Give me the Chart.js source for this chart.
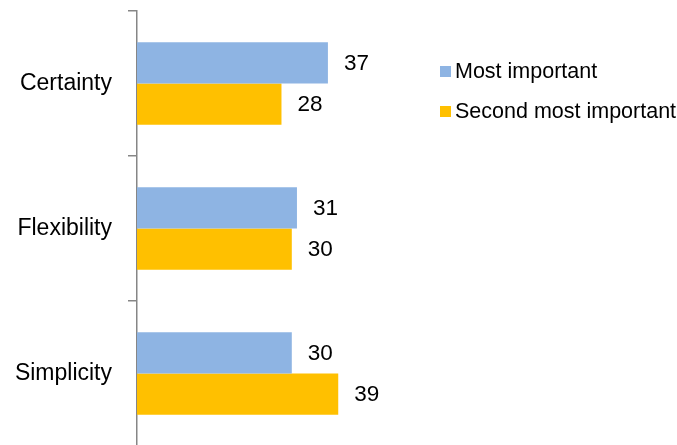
<!DOCTYPE html>
<html>
<head>
<meta charset="utf-8">
<script src="https://cdn.jsdelivr.net/npm/chart.js@4"></script>
<style>
  html, body { margin: 0; padding: 0; background: #fff; overflow: hidden; }
  #wrap { position: relative; width: 677px; height: 445px; overflow: hidden; }
  #legend { position: absolute; left: 440px; top: 58px; font: 21.5px "Liberation Sans", Arial, sans-serif; color: #000; }
  #legend div { display: flex; align-items: center; height: 27px; margin-bottom: 13px; white-space: nowrap; }
  #legend span { display: inline-block; width: 11px; height: 11px; margin-right: 4px; }
</style>
</head>
<body>
<div id="wrap">
  <canvas id="prioritiesChart" width="677" height="449"></canvas>
  <div id="legend"></div>
</div>
<script>
const categories = ['Certainty', 'Flexibility', 'Simplicity'];
const mostImportant = [37, 31, 30];
const secondMostImportant = [28, 30, 39];
const seriesNames = ['Most important', 'Second most important'];
const seriesColors = ['#8EB4E3', '#FFC000'];

// value labels to the right of each bar
const barValueLabels = {
  id: 'barValueLabels',
  afterDatasetsDraw(chart) {
    const ctx = chart.ctx;
    ctx.save();
    ctx.font = '22.5px "Liberation Sans", Arial, sans-serif';
    ctx.fillStyle = '#000';
    ctx.textAlign = 'left';
    ctx.textBaseline = 'middle';
    chart.data.datasets.forEach((ds, i) => {
      chart.getDatasetMeta(i).data.forEach((bar, j) => {
        ctx.fillText(ds.data[j], bar.x + 16, bar.y + 1);
      });
    });
    ctx.restore();
  }
};

const ctx = document.getElementById('prioritiesChart').getContext('2d');
new Chart(ctx, {
  type: 'bar',
  data: {
    labels: categories,
    datasets: [
      { label: seriesNames[0], data: mostImportant, backgroundColor: seriesColors[0] },
      { label: seriesNames[1], data: secondMostImportant, backgroundColor: seriesColors[1] }
    ]
  },
  options: {
    indexAxis: 'y',
    responsive: false,
    animation: false,
    // axis runs past the bottom edge of the visible area
    layout: { padding: { top: 11, bottom: 3, left: 0, right: 282 } },
    datasets: { bar: { barPercentage: 1.0, categoryPercentage: 0.57 } },
    plugins: {
      legend: { display: false },
      tooltip: { enabled: false }
    },
    scales: {
      x: { display: false, min: 0, max: 50 },
      y: {
        afterFit(scale) {
          scale.width = 137;
          scale.paddingTop = 0;
          scale.paddingBottom = 0;
        },
        border: { color: '#868686', width: 1.5 },
        grid: { offset: true, drawOnChartArea: false, tickLength: 9, color: '#868686', lineWidth: 1.5 },
        ticks: { color: '#000', padding: 16, font: { family: '"Liberation Sans", Arial, sans-serif', size: 23 } }
      }
    }
  },
  plugins: [barValueLabels]
});

// legend built from the series
document.getElementById('legend').innerHTML = seriesNames.map((name, i) =>
  `<div><span style="background:${seriesColors[i]}"></span>${name}</div>`
).join('');
</script>
</body>
</html>
